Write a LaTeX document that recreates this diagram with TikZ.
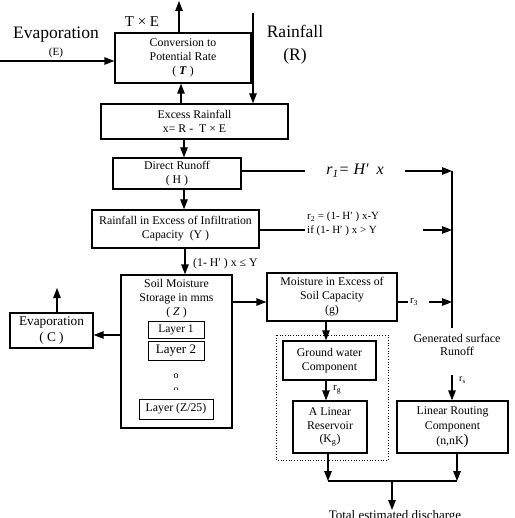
\documentclass[tikz,border=0pt]{standalone}
\usepackage{fontspec}
\setmainfont{Liberation Serif}
\usetikzlibrary{arrows.meta,calc}
\begin{document}
\begin{tikzpicture}[x=1pt,y=-1pt,
 box/.style={draw,line width=1.3pt,inner sep=0pt,align=center,font=\fontsize{11.8}{14}\selectfont},
 lay/.style={draw,line width=0.9pt,inner sep=0pt,align=center},
 ln/.style={line width=1.3pt},
 arr/.style={ln,-{Triangle[length=10pt,width=7.5pt]}},
 lbl/.style={inner sep=0pt,align=center,font=\fontsize{11}{14}\selectfont}]
\useasboundingbox (0,0) rectangle (514,518);
% boxes
\node[box,minimum width=136pt,minimum height=50pt] (conv) at (183,58) {Conversion to\\Potential Rate\\( \textbf{\textit{T}} )};
\node[box,minimum width=187pt,minimum height=35pt] (excess) at (194.5,121.5) {Excess Rainfall\\x= R -\ \ T × E};
\node[box,minimum width=128pt,minimum height=31pt] (direct) at (177,173.5) {Direct Runoff\\( H )};
\node[box,minimum width=167pt,minimum height=38pt] (rainexc) at (175.5,229) {Rainfall in Excess of Infiltration\\Capacity\ \ (Y )};
\node[box,minimum width=111pt,minimum height=153pt] (soil) at (176.5,351.5) {};
\node[lbl,font=\fontsize{11.8}{14}\selectfont] (soiltxt) at (176.5,299) {Soil Moisture\\Storage in mms\\( \textit{Z} )};
\node[lay,minimum width=56pt,minimum height=17pt,font=\fontsize{11.5}{13}\selectfont] (l1) at (176,329.5) {Layer 1};
\node[lay,minimum width=56pt,minimum height=19pt,font=\fontsize{13}{14}\selectfont] (l2) at (176,350.5) {Layer 2};
\node[lbl,font=\fontsize{10}{12}\selectfont] (dot1) at (176,376) {o};
\begin{scope}
\clip (160,380) rectangle (190,389.5);
\node[lbl,font=\fontsize{10}{12}\selectfont] (dot2) at (176,390) {o};
\end{scope}
\node[lay,minimum width=74pt,minimum height=20pt,font=\fontsize{11.8}{13}\selectfont] (lz) at (176,409) {Layer (Z/25)};
\node[box,minimum width=83pt,minimum height=35pt,font=\fontsize{13.3}{16}\selectfont] (evapc) at (51.5,330.5) {Evaporation\\( C )};
\node[box,minimum width=130pt,minimum height=48pt] (moist) at (332,297) {Moisture in Excess of\\Soil Capacity\\(g)};
\draw[dotted,line width=0.7pt] (276,335) rectangle (388,460);
\node[box,minimum width=93pt,minimum height=39pt] (gw) at (329.5,360.5) {Ground water\\Component};
\node[box,minimum width=74pt,minimum height=52pt,font=\fontsize{11.8}{13.5}\selectfont] (res) at (330,427) {A Linear\\Reservoir\\(K\textsubscript{g})};
\node[box,minimum width=111pt,minimum height=52pt,font=\fontsize{11.8}{15}\selectfont] (rout) at (452.5,427) {Linear Routing\\Component\\(n,nK{\fontsize{15}{15}\selectfont)}};
% texts
\node[lbl,font=\fontsize{17.5}{18}\selectfont] (evtxt) at (56,35) {Evaporation};
\node[lbl] (etxt) at (56,53) {(E)};
\node[lbl,font=\fontsize{15}{16}\selectfont] (txe) at (142,22) {T × E};
\node[lbl,font=\fontsize{17.5}{23}\selectfont] (rain) at (295,45) {Rainfall\\(R)};
\node[lbl,font=\fontsize{12}{13}\selectfont] (gen) at (457,344.5) {Generated surface\\Runoff};
\node[lbl,font=\fontsize{13}{14}\selectfont,anchor=north] (total) at (395,510.5) {Total estimated discharge};
% coordinates
\coordinate (evin) at (0,61);
\coordinate (topout) at (179,1);
\coordinate (rtop) at (253,13);
\coordinate (vtop) at (452,171);
\coordinate (vbot) at (452,328);
\coordinate (rsin) at (452,375);
\coordinate (join) at (392,481);
% top part
\draw[arr] (evin) -- (evin -| conv.west);
\draw[arr] ([xshift=-4pt]conv.north) -- (topout);
\draw[arr] ([xshift=-2pt]conv.south |- excess.north) -- ([xshift=-2pt]conv.south);
\draw[arr] (rtop) -- (rtop |- excess.north);
\draw[arr] (184,0 |- excess.south) -- (184,0 |- direct.north);
\draw[arr] (184,0 |- direct.south) -- (184,0 |- rainexc.north);
\draw[arr] (185,0 |- rainexc.south) -- (185,0 |- soil.north);
\node[lbl,anchor=west,font=\fontsize{11.8}{14}\selectfont] (cond) at (193,264) {(1- H′ ) x ≤ Y};
% r1
\node[lbl,font=\fontsize{16}{18}\selectfont] (r1) at (355,171) {\textit{r}\textsubscript{\textit{1}}\textit{= H′\ \ x}};
\draw[ln] (direct.east |- vtop) -- (305,171);
\draw[arr] (405,171) -- (vtop);
\draw[ln] (vtop) -- (vbot);
% r2
\node[lbl,anchor=west,align=left] (r2) at (307,224) {r\textsubscript{2} = (1- H′ ) x-Y\\if (1- H′ ) x > Y};
\draw[ln] (rainexc.east |- 0,230) -- (305,230);
\draw[arr] (423,230) -- (452,230);
% soil connections
\draw[arr] (soil.east |- 0,302) -- (moist.west |- 0,302);
\draw[arr] (soil.west |- 0,335) -- (evapc.east |- 0,335);
\draw[arr] (57,0 |- evapc.north) -- (57,288);
% r3
\draw[ln] (moist.east |- 0,302) -- (408,302);
\node[lbl] (r3) at (414,302) {r\textsubscript{3}};
\draw[arr] (429,302) -- (452,302);
% groundwater
\draw[arr] (326,0 |- moist.south) -- (326,0 |- gw.north);
\draw[arr] (326,0 |- gw.south) -- (326,0 |- res.north);
\node[lbl,anchor=west] (rg) at (333,390) {r\textsubscript{g}};
% routing
\draw[arr] (rsin) -- (rsin |- rout.north);
\node[lbl,anchor=west,font=\fontsize{10}{12}\selectfont] (rs) at (459,380) {r\textsubscript{s}};
% bottom
\draw[arr] (328,0 |- res.south) -- (328,481);
\draw[arr] (457,0 |- rout.south) -- (457,481);
\draw[ln] (328,481) -- (457,481);
\draw[arr] (join) -- (392,510);
\end{tikzpicture}
\end{document}
